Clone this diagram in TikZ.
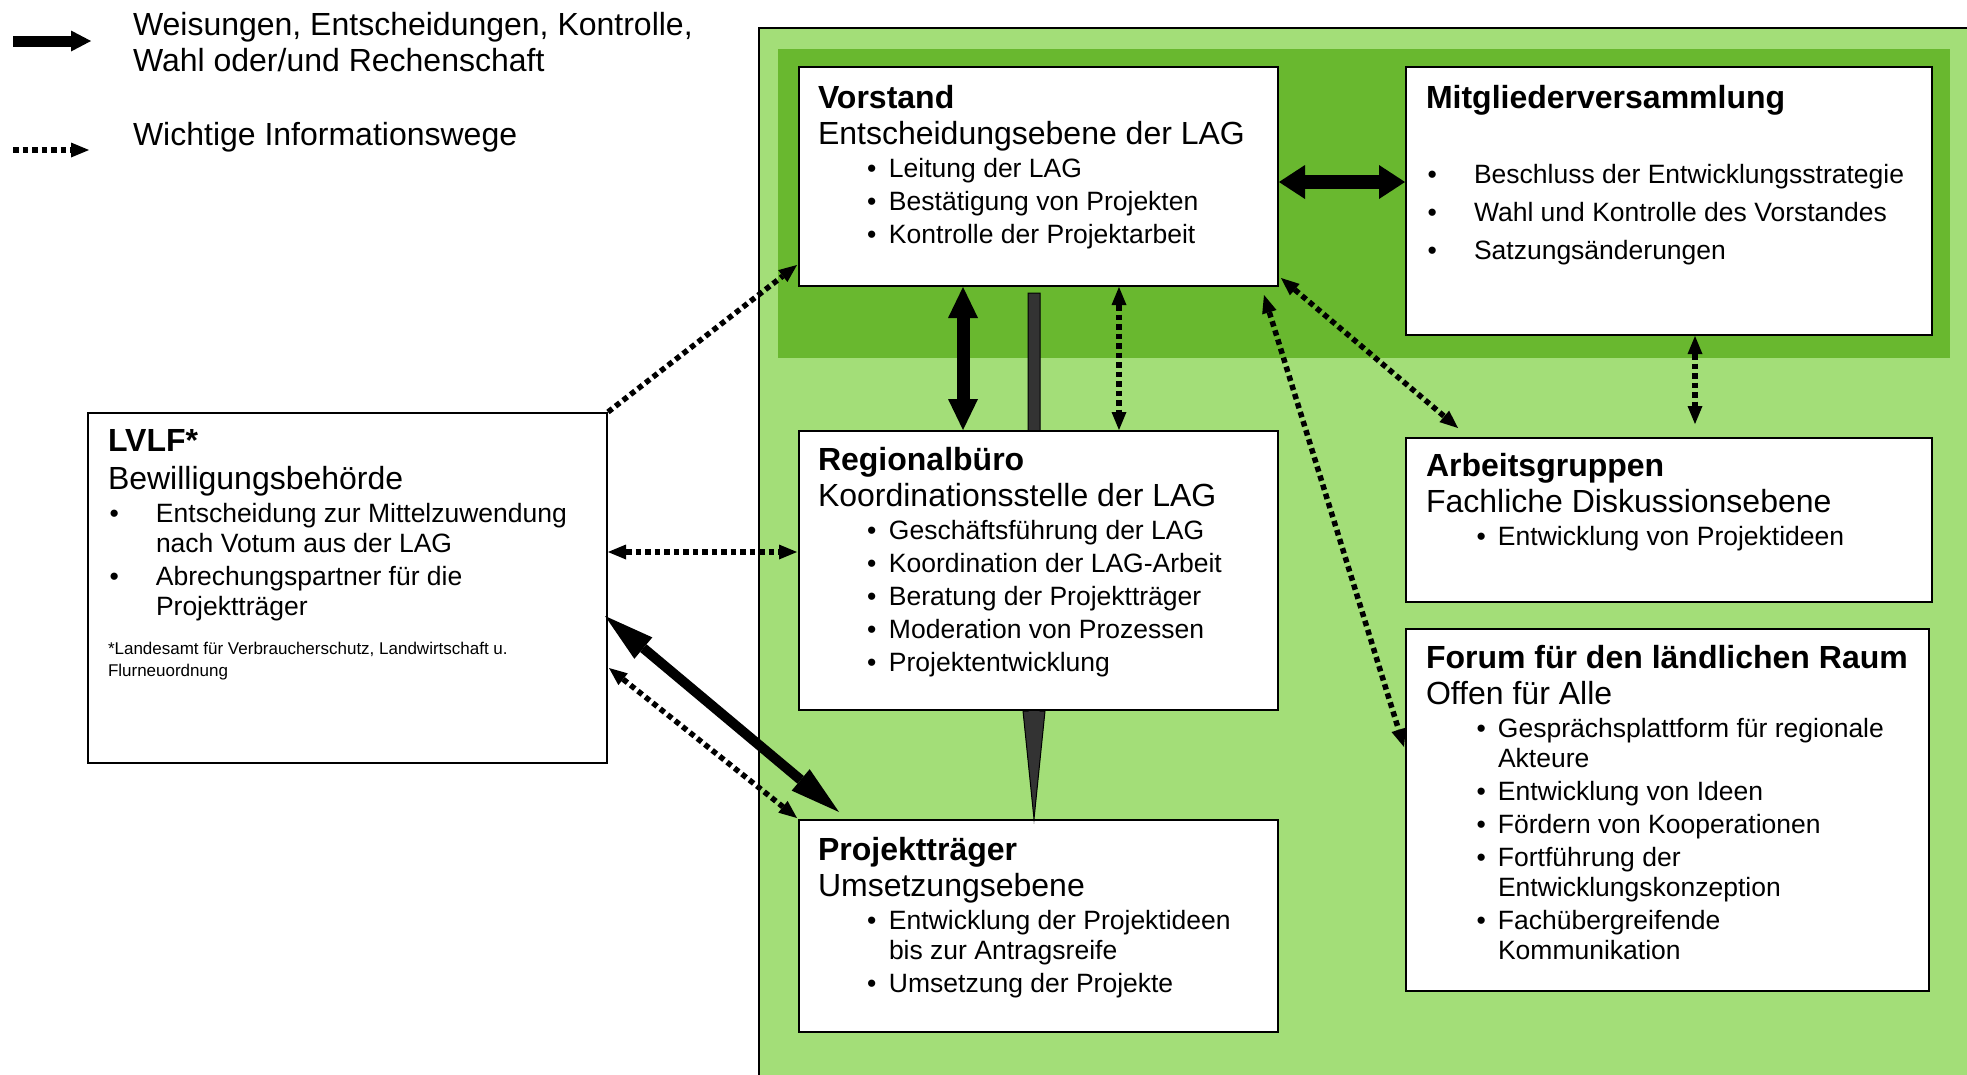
\documentclass[tikz,border=0pt]{standalone}
\usepackage{fontspec}
\setmainfont{Liberation Sans}
\usetikzlibrary{arrows.meta,calc}
\definecolor{lightgr}{HTML}{A3DE78}
\definecolor{darkgr}{HTML}{69B82F}
\definecolor{barg}{HTML}{333333}
\newcommand\TTitle[1]{{\fontsize{32}{36}\bfseries #1\par}}
\newcommand\TSub[2]{{\fontsize{32}{#1}\selectfont #2\par}}
\newcommand\Bit[4]{{\fontsize{26.5}{#3}\selectfont\leftskip=#1\relax\noindent\llap{\textbullet\hspace{#2}}#4\par}}
\newcommand\Prep{\spaceskip=0pt\xspaceskip=0pt\rightskip=0pt plus 1fil\parindent=0pt\parskip=0pt\relax}
\begin{document}
\begin{tikzpicture}[x=1pt,y=-1pt,
  box/.style={draw=black,line width=2pt,fill=white,inner sep=0pt,anchor=north west},
  txt/.style={anchor=base west,inner sep=0pt,outer sep=0pt,text width=#1,align=left},
  dotarr/.style={line width=5.5pt,dash pattern=on 5.5pt off 4pt,
    arrows={Triangle[length=18pt,width=15pt,line width=0pt]-Triangle[length=18pt,width=15pt,line width=0pt]}},
  dotarrone/.style={line width=5.5pt,dash pattern=on 5.5pt off 4pt,
    arrows={-Triangle[length=18pt,width=15pt,line width=0pt]}},
  bigA/.style={line width=14pt,arrows={Triangle[length=26pt,width=34pt,line width=0pt]-Triangle[length=26pt,width=34pt,line width=0pt]}},
  bigB/.style={line width=13pt,arrows={Triangle[length=31pt,width=30pt,line width=0pt]-Triangle[length=31pt,width=30pt,line width=0pt]}},
  bigJ/.style={line width=10pt,arrows={Triangle[length=50pt,width=28pt,line width=0pt]-Triangle[length=50pt,width=28pt,line width=0pt]}},
  bigL/.style={line width=11pt,arrows={-Triangle[length=20pt,width=21pt,line width=0pt]}}
]
\useasboundingbox (0,0) rectangle (1967,1074);
% backgrounds
\fill[lightgr] (759,28) rectangle (1990,1100);
\draw[line width=2pt] (759,1100) -- (759,28) -- (1990,28);
\fill[darkgr] (778,49) rectangle (1950,358);

% boxes
\node[box,minimum width=479pt,minimum height=219pt] (vorstand) at (798,66) {};
\node[box,minimum width=526pt,minimum height=268pt] (mv) at (1405,66) {};
\node[box,minimum width=526pt,minimum height=164pt] (ag) at (1405,437) {};
\node[box,minimum width=523pt,minimum height=362pt] (forum) at (1405,628) {};
\node[box,minimum width=519pt,minimum height=350pt] (lvlf) at (87,412) {};

% gray arrow Vorstand -> Projekttraeger (behind Regionalbuero)
\node[box,minimum width=479pt,minimum height=279pt,draw=none,fill=none] (rbpos) at (798,430) {};
\node[box,minimum width=479pt,minimum height=212pt] (pt) at (798,819) {};
\filldraw[fill=barg,draw=black,line width=1pt]
  ([xshift=-10.5pt,yshift=-6pt]vorstand.south) -- ([xshift=1.5pt,yshift=-6pt]vorstand.south)
  -- ([xshift=1.5pt]rbpos.south) -- ([xshift=6.5pt]rbpos.south) -- ([xshift=-4.5pt]pt.north)
  -- ([xshift=-15.5pt]rbpos.south) -- ([xshift=-10.5pt]rbpos.south) -- cycle;
\node[box,minimum width=479pt,minimum height=279pt] (rb) at (798,430) {};

% texts
\node[txt=455pt] (vorstandtxt) at (818,108) {\Prep\TTitle{Vorstand}\parskip=3pt
  \TSub{33}{Entscheidungsebene der LAG}
  \Bit{71pt}{12.5pt}{30}{Leitung der LAG}
  \Bit{71pt}{12.5pt}{30}{Bestätigung von Projekten}
  \Bit{71pt}{12.5pt}{30}{Kontrolle der Projektarbeit}};
\node[txt=500pt] (mvtxt) at (1426,108) {\Prep\TTitle{Mitgliederversammlung}\parskip=3pt
  \vskip 37.5pt
  \Bit{48pt}{37pt}{35}{Beschluss der Entwicklungsstrategie}
  \Bit{48pt}{37pt}{35}{Wahl und Kontrolle des Vorstandes}
  \Bit{48pt}{37pt}{35}{Satzungsänderungen}};
\node[txt=455pt] (rbtxt) at (818,470) {\Prep\TTitle{Regionalbüro}\parskip=3pt
  \TSub{33}{Koordinationsstelle der LAG}
  \Bit{71pt}{12.5pt}{30}{Geschäftsführung der LAG}
  \Bit{71pt}{12.5pt}{30}{Koordination der LAG-Arbeit}
  \Bit{71pt}{12.5pt}{30}{Beratung der Projektträger}
  \Bit{71pt}{12.5pt}{30}{Moderation von Prozessen}
  \Bit{71pt}{12.5pt}{30}{Projektentwicklung}};
\node[txt=455pt] (pttxt) at (818,860) {\Prep\TTitle{Projektträger}\parskip=3pt
  \TSub{33}{Umsetzungsebene}
  \Bit{71pt}{12.5pt}{30}{Entwicklung der Projektideen\break bis zur Antragsreife}
  \Bit{71pt}{12.5pt}{30}{Umsetzung der Projekte}};
\node[txt=500pt] (agtxt) at (1426,476) {\Prep\TTitle{Arbeitsgruppen}\parskip=3pt
  \TSub{33}{Fachliche Diskussionsebene}
  \Bit{72pt}{12pt}{30}{Entwicklung von Projektideen}};
\node[txt=500pt] (forumtxt) at (1426,668) {\Prep\TTitle{Forum für den ländlichen Raum}\parskip=3pt
  \TSub{33}{Offen für Alle}
  \Bit{72pt}{12pt}{30}{Gesprächsplattform für regionale\break Akteure}
  \Bit{72pt}{12pt}{30}{Entwicklung von Ideen}
  \Bit{72pt}{12pt}{30}{Fördern von Kooperationen}
  \Bit{72pt}{12pt}{30}{Fortführung der\break Entwicklungskonzeption}
  \Bit{72pt}{12pt}{30}{Fachübergreifende\break Kommunikation}};
\node[txt=490pt] (lvlftxt) at (108,451) {\Prep\TTitle{LVLF*}\parskip=3pt
  \TSub{35}{Bewilligungsbehörde}
  \Bit{48pt}{37pt}{30}{Entscheidung zur Mittelzuwendung\break nach Votum aus der LAG}
  \Bit{48pt}{37pt}{30}{Abrechungspartner für die\break Projektträger}
  \vskip 14.5pt
  {\fontsize{17}{22}\selectfont *Landesamt für Verbraucherschutz, Landwirtschaft u.\break Flurneuordnung\par}};

% legend
\node[txt=600pt] (leg1) at (133,35) {\Prep{\fontsize{32}{36}\selectfont Weisungen, Entscheidungen, Kontrolle,\break Wahl oder/und Rechenschaft\par}};
\node[txt=600pt] (leg2) at (133,145) {\Prep{\fontsize{32}{36}\selectfont Wichtige Informationswege\par}};
\coordinate (l1a) at (13,41); \coordinate (l1b) at (91,41);
\coordinate (l2a) at (13,150); \coordinate (l2b) at (89,150);
\draw[bigL] (l1a) -- (l1b);
\draw[dotarrone] (l2a) -- (l2b);

% connectors
\draw[bigA] ([yshift=-5.5pt]vorstand.east) -- ([yshift=19pt]mv.west);
\draw[bigB] ([xshift=-75.5pt]vorstand.south) -- ([xshift=-75.5pt]rb.north);
\draw[dotarr] ([xshift=80.5pt]vorstand.south) -- ([xshift=80.5pt]rb.north);
\draw[dotarr] ([xshift=-15pt,yshift=-8pt]vorstand.south east) -- ([xshift=-1pt,yshift=-119pt]forum.north west);
\draw[dotarr] ([xshift=2pt,yshift=9pt]vorstand.south east) -- ([xshift=53pt,yshift=9pt]ag.north west);
\draw[dotarr] ([xshift=26pt]mv.south) -- ([xshift=26pt,yshift=13pt]ag.north);
\draw[dotarrone] (lvlf.north east) -- ([xshift=-1pt,yshift=22pt]vorstand.south west);
\draw[dotarr] ([yshift=36pt]lvlf.east) -- ([xshift=-1pt,yshift=18.5pt]rb.west);
\draw[bigJ] ([xshift=-3pt,yshift=-28pt]lvlf.east) -- ([xshift=41pt,yshift=7pt]pt.north west);
\draw[dotarr] ([xshift=1pt,yshift=-80pt]lvlf.east) -- ([xshift=-1pt,yshift=1pt]pt.north west);
\end{tikzpicture}
\end{document}
